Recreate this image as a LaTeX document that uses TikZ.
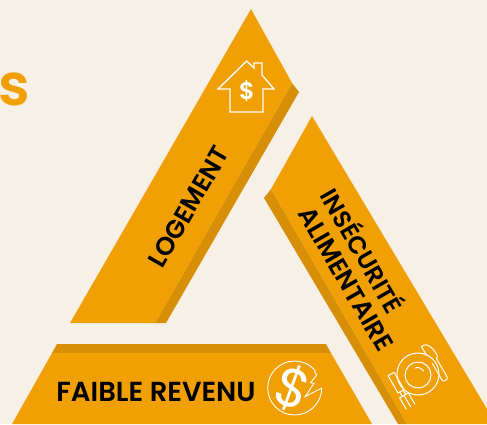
\documentclass[tikz,border=0pt]{standalone}
\usepackage{fontspec}
\setmainfont{Poppins}[BoldFont={Poppins SemiBold}]
\definecolor{bgc}{HTML}{F7F0E7}
\definecolor{orangec}{HTML}{F0A004}
\definecolor{darkc}{HTML}{D68F06}
\tikzset{
  lbl/.style={font=\bfseries\fontsize{#1}{#1}\selectfont,text=black,inner sep=0pt},
  iconline/.style={draw=white,line width=1.3pt,line join=miter},
  iconthin/.style={draw=white,line width=1pt,line cap=round,line join=round}
}
\begin{document}
\begin{tikzpicture}[x=1pt,y=-1pt]
\useasboundingbox (0,0) rectangle (487,424);
\clip (0,0) rectangle (487,424);
\fill[bgc] (0,0) rectangle (487,424);
% title fragment
\node[anchor=base east,inner sep=0pt,text=orangec,font=\bfseries\fontsize{58}{58}\selectfont] (titlefrag) at (30,105) {s};
% top piece
\fill[darkc] (292,83) -- (299,92) -- (166,323) -- (155,323) -- cycle;
\fill[orangec] (251,9) -- (292,83) -- (155,323) -- (70,323) -- cycle;
% right piece
\fill[darkc] (271,189) -- (264,198) -- (398,424) -- (407,424) -- cycle;
\fill[orangec] (312,116) -- (271,189) -- (407,424) -- (496,424) -- cycle;
% bottom piece
\fill[darkc] (57,344) -- (326,344) -- (331,353) -- (52,353) -- cycle;
\fill[orangec] (52,353) -- (331,353) -- (372,424) -- (12,424) -- cycle;
% labels
\node[lbl=25.5,rotate=60] (logement) at (188.5,207) {LOGEMENT};
\node[lbl=24.5,rotate=-60] (insec) at (364,250) {INSÉCURITÉ};
\node[lbl=25.5,rotate=-60] (alim) at (346,279) {ALIMENTAIRE};
\node[lbl=27.5] (revenu) at (156,392) {FAIBLE REVENU};
% house icon
\draw[iconline] (218,89) -- (246.7,61) -- (254,68) -- (254,63) -- (262,63) -- (262,75) -- (274,89) -- (263,89) -- (263,112) -- (230,112) -- (230,89) -- cycle;
\node[font=\bfseries\fontsize{24}{24}\selectfont,text=white,inner sep=0pt] (housedollar) at (247,91) {\$};
% coin icon
\draw[draw=white,line width=.9pt,line join=miter] (321.7,388) arc[start angle=0,end angle=318,radius=27]
  -- (315,372.7) -- (316.7,375) -- (310.7,382.7) -- (314,383.3) -- (305,396.7) -- (321.7,388);
\node[font=\fontsize{54}{54}\selectfont,text=white,inner sep=0pt,rotate=-20] (coindollar) at (293,388) {\$};
% plate icon
\draw[iconthin] (418,374) circle[radius=21];
\draw[iconthin] (418,375) circle[radius=13];
\draw[iconthin] (415,368) arc[start angle=-110,end angle=-30,radius=7];
\begin{scope}[shift={(435,362)},rotate=30]
  \draw[iconthin] (-4,-20) .. controls (3,-22) and (6,-12) .. (5,-4) -- (3,-2) -- (3,19) .. controls (3,22) and (-3,22) .. (-3,19) -- (-3,0);
  \draw[iconthin] (-4,-20) -- (-4,-10);
\end{scope}
\begin{scope}[shift={(398,385)},rotate=30]
  \draw[iconthin] (-4,-13) -- (3,-13) -- (3,7) -- (-4,7) -- cycle;
  \draw[iconthin] (-2,7) -- (-2,12) -- (2,12) -- (2,7);
  \draw[iconthin] (-5,12) -- (5,12);
  \draw[iconthin] (-5,12) -- (-5,25) (0,12) -- (0,25) (5,12) -- (5,25);
\end{scope}
\end{tikzpicture}
\end{document}
